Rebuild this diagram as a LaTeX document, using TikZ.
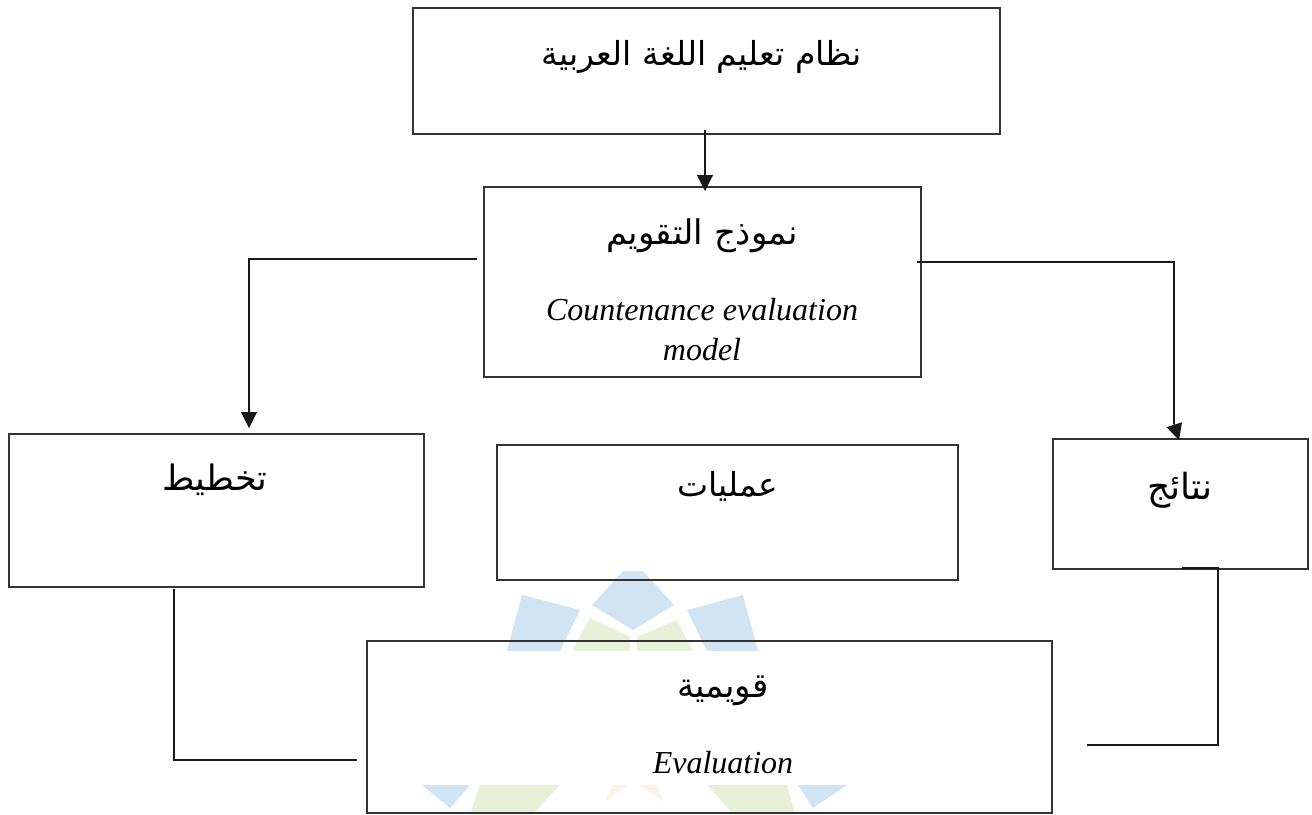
\documentclass[tikz,border=0pt]{standalone}
\usepackage{fontspec}
\setmainfont{Liberation Serif}
\newfontfamily\arabicfont[Script=Arabic]{DejaVu Sans}
\TeXXeTstate=1
\definecolor{wmblue}{HTML}{D0E4F3}
\definecolor{wmgreen}{HTML}{E6F1D8}
\definecolor{wmpeach}{HTML}{FBF3E3}
\usetikzlibrary{arrows.meta}
\tikzset{
  boxframe/.style={draw=black!80,line width=1.4pt,minimum width=#1,anchor=north west,inner sep=0pt,outer sep=0pt},
  conn/.style={draw=black!90,line width=1.1pt},
  arrowconn/.style={conn,-{Triangle[length=16pt,width=16pt]}},
  artext/.style={inner sep=0pt,font=\fontsize{#1}{#1}\arabicfont},
  entext/.style={inner sep=0pt,align=center,font=\fontsize{32}{40}\selectfont\itshape}
}
\newcommand{\ar}[1]{\beginR #1\endR}
\begin{document}
\begin{tikzpicture}[x=1pt,y=-1pt]
\useasboundingbox (0,0) rectangle (1312,814);
\fill[white] (0,0) rectangle (1312,814);
% watermark
\fill[wmblue] (623,571) -- (643,571) -- (674,605) -- (633,630) -- (592,605) -- cycle;
\fill[wmblue] (522,595) -- (580,610) -- (560,651) -- (507,651) -- cycle;
\fill[wmblue] (743,595) -- (687,610) -- (707,651) -- (758,651) -- cycle;
\fill[wmgreen] (572,651) -- (590,618) -- (630,637) -- (630,651) -- cycle;
\fill[wmgreen] (637,651) -- (637,637) -- (677,620) -- (693,651) -- cycle;
\fill[wmblue] (422,785) -- (470,785) -- (450,808) -- cycle;
\fill[wmgreen] (480,785) -- (560,785) -- (533,814) -- (470,814) -- cycle;
\fill[wmpeach] (605,802) -- (612,785) -- (628,785) -- cycle;
\fill[wmpeach] (640,785) -- (657,785) -- (664,802) -- cycle;
\fill[wmgreen] (707,785) -- (787,785) -- (795,814) -- (733,814) -- cycle;
\fill[wmblue] (798,785) -- (847,785) -- (813,808) -- cycle;
\fill[white] (367,651) rectangle (1052,785);
% boxes
\node[boxframe=587pt,minimum height=126pt] (top) at (413,8) {};
\node[boxframe=437pt,minimum height=190pt] (model) at (484,187) {};
\node[boxframe=415pt,minimum height=153pt] (plan) at (9,434) {};
\node[boxframe=461pt,minimum height=135pt] (proc) at (497,445) {};
\node[boxframe=255pt,minimum height=130pt] (res) at (1053,439) {};
\node[boxframe=685pt,minimum height=172pt] (eval) at (367,641) {};
% texts
\node[artext=33] (t1) at (702,57) {\ar{نظام تعليم اللغة العربية}};
\node[artext=34] (t2) at (702,236) {\ar{نموذج التقويم}};
\node[entext] (t2b) at (702,330) {Countenance evaluation\\model};
\node[artext=35] (t3) at (215,480) {\ar{تخطيط}};
\node[artext=33] (t4) at (728,486) {\ar{عمليات}};
\node[artext=36] (t5) at (1180,490) {\ar{نتائج}};
\node[artext=34] (t6) at (723,691) {\ar{قويمية}};
\node[entext] (t6b) at (723,763) {Evaluation};
% connector ends
\coordinate (a0) at (705,130);
\coordinate (a1) at (705,191);
\coordinate (b0) at (477,259);
\coordinate (b1) at (249,259);
\coordinate (b2) at (249,428);
\coordinate (c0) at (917,262);
\coordinate (c1) at (1174,262);
\coordinate (c2) at (1174,424);
\coordinate (c3) at (1179,440);
\coordinate (d0) at (174,589);
\coordinate (d1) at (174,760);
\coordinate (d2) at (357,760);
\coordinate (e0) at (1182,568);
\coordinate (e1) at (1218,568);
\coordinate (e2) at (1218,745);
\coordinate (e3) at (1087,745);
\draw[arrowconn] (a0) -- (a1);
\draw[arrowconn] (b0) -- (b1) -- (b2);
\draw[conn] (c0) -- (c1) -- (c2);
\draw[arrowconn] (c2) -- (c3);
\draw[conn] (d0) -- (d1) -- (d2);
\draw[conn] (e0) -- (e1) -- (e2) -- (e3);
\end{tikzpicture}
\end{document}
